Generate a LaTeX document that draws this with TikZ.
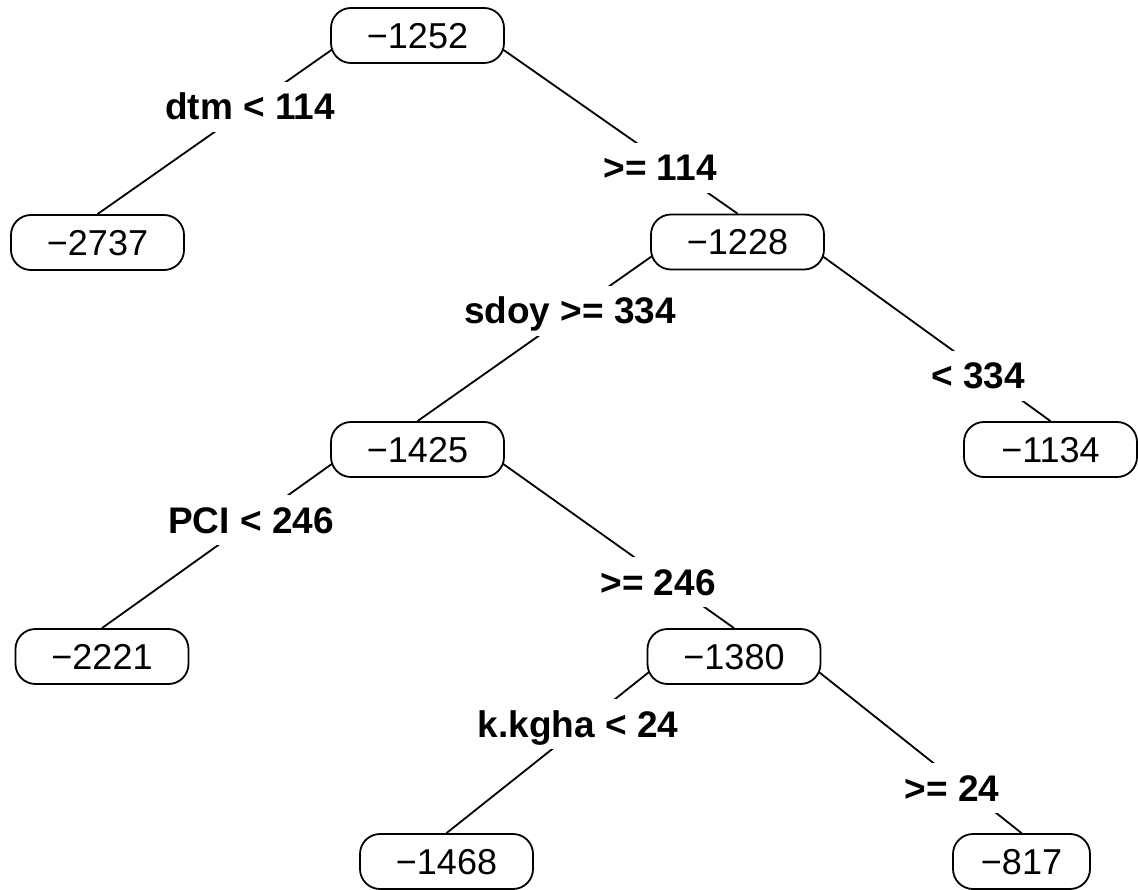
\documentclass[tikz,border=0pt]{standalone}
\usepackage{fontspec}
\setmainfont{Liberation Sans}
\usetikzlibrary{calc,backgrounds}
\begin{document}
\begin{tikzpicture}[x=1pt,y=-1pt,
  box/.style={draw, line width=1.8pt, rounded corners=20pt, fill=white,
    minimum width=173pt, minimum height=55pt, inner sep=0pt,
    font=\fontsize{36}{40}\selectfont, text height=26pt, text depth=0pt},
  cond/.style={fill=white, inner xsep=6pt, inner ysep=12pt,
    font=\fontsize{37}{40}\selectfont\bfseries, text height=26pt, text depth=0pt},
  branch/.style={line width=1.8pt}]
\useasboundingbox (0,0) rectangle (1138,890);
% nodes
\node[box] (r)  at (417.5,35.5)  {−1252};
\node[box] (a)  at (97.5,242.5)  {−2737};
\node[box] (b)  at (737.5,242)   {−1228};
\node[box] (c)  at (417.5,449.5) {−1425};
\node[box] (d)  at (1050.5,449.5){−1134};
\node[box] (e)  at (102,656.5)   {−2221};
\node[box] (f)  at (734,656.5)   {−1380};
\node[box] (g)  at (446.5,861.5) {−1468};
\node[box, minimum width=137pt] (h) at (1021.5,861.5) {−817};
% branches
\begin{scope}[on background layer]
\draw[branch] ($(r.west)+(22,0)$) -- (a.north);
\draw[branch] ($(r.east)-(22,0)$) -- (b.north);
\draw[branch] ($(b.west)+(22,0)$) -- (c.north);
\draw[branch] ($(b.east)-(22,0)$) -- (d.north);
\draw[branch] ($(c.west)+(22,0)$) -- (e.north);
\draw[branch] ($(c.east)-(22,0)$) -- (f.north);
\draw[branch] ($(f.west)+(22,0)$) -- (g.north);
\draw[branch] ($(f.east)-(22,0)$) -- (h.north);
\end{scope}
% split labels
\node[cond] (l1) at (250,107) {dtm < 114};
\node[cond] (l2) at (660,168) {>= 114};
\node[cond] (l3) at (570,311) {sdoy >= 334};
\node[cond] (l4) at (978,376) {< 334};
\node[cond] (l5) at (251,520) {PCI < 246};
\node[cond] (l6) at (658,582) {>= 246};
\node[cond] (l7) at (578,724) {k.kgha < 24};
\node[cond] (l8) at (952,788) {>= 24};
\end{tikzpicture}
\end{document}
